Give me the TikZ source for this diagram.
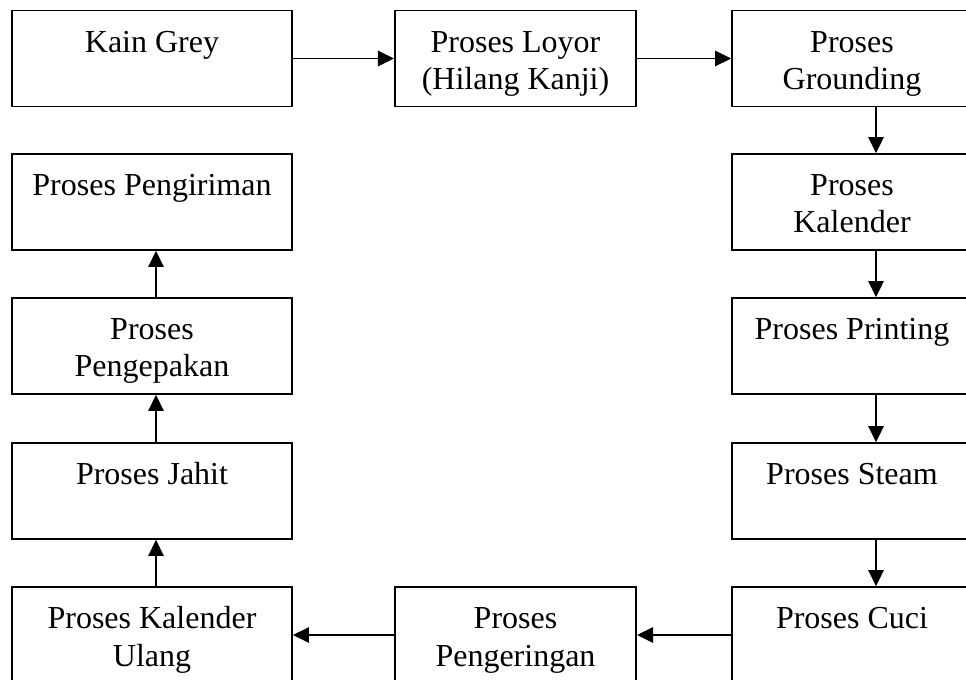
\documentclass[tikz,border=0pt]{standalone}
\usepackage{fontspec}
\setmainfont{Liberation Serif}
\usetikzlibrary{arrows.meta}

\newcommand{\tstrut}{\rule{0pt}{27pt}}
\newcommand{\bstrut}{\rule[-8.5pt]{0pt}{8.5pt}}

\begin{document}
\begin{tikzpicture}[
  x=0.75pt, y=-0.75pt, font=\fontsize{24}{28}\selectfont,
  proc/.style={draw, line width=1.3pt, align=center, inner sep=0pt, minimum height=72pt},
  procL/.style={proc, minimum width=210pt},
  procM/.style={proc, minimum width=181pt},
  procR/.style={proc, minimum width=180pt},
  ar/.style={-{Triangle[length=12pt,width=11.5pt]}, line width=1.3pt},
]
\useasboundingbox (0,0) rectangle (966,680);
\clip (0,0) rectangle (966,680);

% ============================================================ ROW 1
\node[procL] at (152,58.5) (kain)      {\tstrut Kain Grey\\\bstrut};
\node[procM] at (515.5,58.5) (loyor)   {\tstrut Proses Loyor\\(Hilang Kanji)\bstrut};
\node[procR] at (852,58.5) (grounding) {\tstrut Proses\\Grounding\bstrut};

% ============================================================ right column
\node[procR] at (852,202) (kalender) {\tstrut Proses\\Kalender\bstrut};
\node[procR] at (852,346) (printing) {\tstrut Proses Printing\\\bstrut};
\node[procR] at (852,491) (steam)    {\tstrut Proses Steam\\\bstrut};
\node[procR] at (852,635) (cuci)     {\tstrut Proses Cuci\\\bstrut};

% ============================================================ bottom row
\node[procM] at (515.5,635) (pengeringan) {\tstrut Proses\\Pengeringan\bstrut};
\node[procL] at (152,635) (kalulang)      {\tstrut Proses Kalender\\Ulang\bstrut};

% ============================================================ left column
\node[procL] at (152,491) (jahit)      {\tstrut Proses Jahit\\\bstrut};
\node[procL] at (152,346) (pengepakan) {\tstrut Proses\\Pengepakan\bstrut};
\node[procL] at (152,202) (pengiriman) {\tstrut Proses Pengiriman\\\bstrut};

% ============================================================ arrows
\draw[ar] (kain.east)  -- (loyor.west);
\draw[ar] (loyor.east) -- (grounding.west);
\draw[ar] ([xshift=18pt]grounding.south) -- ([xshift=18pt]kalender.north);
\draw[ar] ([xshift=18pt]kalender.south)  -- ([xshift=18pt]printing.north);
\draw[ar] ([xshift=18pt]printing.south)  -- ([xshift=18pt]steam.north);
\draw[ar] ([xshift=18pt]steam.south)     -- ([xshift=18pt]cuci.north);
\draw[ar] (cuci.west)        -- (pengeringan.east);
\draw[ar] (pengeringan.west) -- (kalulang.east);
\draw[ar] ([xshift=3pt]kalulang.north)   -- ([xshift=3pt]jahit.south);
\draw[ar] ([xshift=3pt]jahit.north)      -- ([xshift=3pt]pengepakan.south);
\draw[ar] ([xshift=3pt]pengepakan.north) -- ([xshift=3pt]pengiriman.south);

\end{tikzpicture}
\end{document}
